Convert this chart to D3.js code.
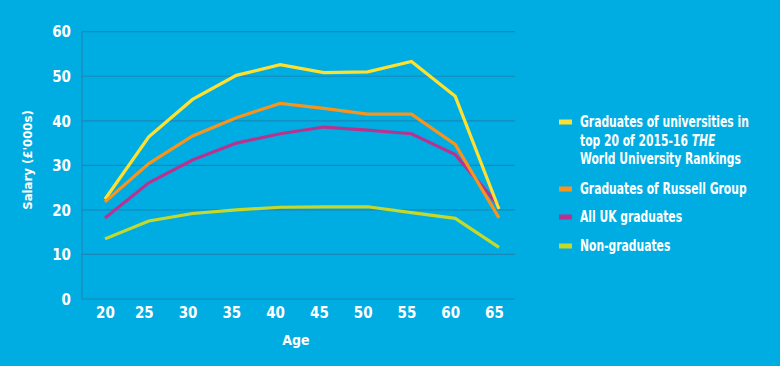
<!DOCTYPE html>
<html><head><meta charset="utf-8">
<script src="https://cdn.jsdelivr.net/npm/d3@7"></script>
<style>
html,body{margin:0;padding:0;background:#00ade3;}
svg{display:block;}
text{font-family:"DejaVu Sans Condensed","Liberation Sans Narrow",sans-serif;font-weight:bold;fill:#fff;}
</style></head>
<body><svg id="c" width="780" height="366"></svg>
<script>
const ages = [20,25,30,35,40,45,50,55,60,65];
const top20 = [22.4,36.4,44.8,50.2,52.6,50.8,51.0,53.3,45.5,20.2];
const russell = [21.8,30.4,36.6,40.7,43.9,42.8,41.5,41.5,34.7,18.2];
const allUK = [18.2,26.1,31.2,35.0,37.1,38.6,37.9,37.1,32.4,20.9];
const nonGrad = [13.5,17.5,19.2,20.0,20.6,20.7,20.7,19.4,18.1,11.6];
const yTicks = [0,10,20,30,40,50,60];
const seriesNames = ["Graduates of universities in|top 20 of 2015-16 THE|World University Rankings","Graduates of Russell Group","All UK graduates","Non-graduates"];
const seriesColors = ["#ffe030","#f7941e","#b8338f","#c5d92d"];
const seriesData = [top20, russell, allUK, nonGrad];

const svg = d3.select("#c");
svg.append("rect").attr("width",780).attr("height",366).attr("fill","#00ade3");
const x = d3.scaleLinear().domain([20,65]).range([105,499]);
const y = d3.scaleLinear().domain([0,60]).range([299,31.7]);
const left = 82, right = 515;

svg.append("g").selectAll("line").data(yTicks).join("line")
  .attr("x1",left).attr("x2",right).attr("y1",d=>y(d)).attr("y2",d=>y(d))
  .attr("stroke","#1888b8").attr("stroke-width",1.2);
svg.append("line").attr("x1",left).attr("x2",left).attr("y1",y(60)).attr("y2",y(0))
  .attr("stroke","#1888b8").attr("stroke-width",1.2);

const yAxis = d3.axisLeft(y).tickValues(yTicks).tickSize(0).tickPadding(0);
const gy = svg.append("g").attr("transform","translate(71,0)").call(yAxis);
gy.select(".domain").remove();
gy.selectAll("text").attr("font-size",15).attr("dy","0.35em");

const xAxis = d3.axisBottom(x).tickValues(ages).tickSize(0).tickPadding(0).tickFormat(d3.format("d"));
const gx = svg.append("g").attr("transform","translate(0,304)").call(xAxis);
gx.select(".domain").remove();
gx.selectAll("text").attr("font-size",15).attr("dy","0.9em")
  .attr("dx",(d,i)=> i===0 ? 0 : -5);
svg.selectAll("g").attr("font-family",null);
svg.selectAll(".tick text").attr("fill","#fff");

svg.append("text").attr("x",296).attr("y",345).attr("text-anchor","middle").attr("font-size",14).text("Age");
svg.append("text").attr("transform","translate(32,160) rotate(-90)").attr("text-anchor","middle").attr("font-size",13).text("Salary (£'000s)");

const line = d3.line().x((d,i)=>x(ages[i])).y(d=>y(d));
[3,2,0,1].forEach(k=>{
  svg.append("path").datum(seriesData[k]).attr("d",line).attr("fill","none")
    .attr("stroke",seriesColors[k]).attr("stroke-width",3.2).attr("stroke-linejoin","miter");
});

const legY = [122,189,217,246];
const lg = svg.append("g");
const lt = svg.append("g");
seriesNames.forEach((name,k)=>{
  lg.append("rect").attr("x",559).attr("y",legY[k]-2.5).attr("width",13).attr("height",5).attr("fill",seriesColors[k]);
  const parts = name.split("|");
  parts.forEach((p,j)=>{
    const t = lt.append("text").attr("x",0).attr("y",legY[k]+j*18.5).attr("dy","0.35em").attr("font-size",15);
    if (p.includes("THE")) {
      const [a,b] = p.split("THE");
      t.append("tspan").text(a);
      t.append("tspan").attr("font-style","italic").text("THE");
      t.append("tspan").text(b);
    } else t.text(p);
  });
});
const w0 = lt.select("text").node().getComputedTextLength();
const sx = 169 / w0;
lt.attr("transform",`translate(580,0) scale(${sx},1)`);
</script></body></html>
